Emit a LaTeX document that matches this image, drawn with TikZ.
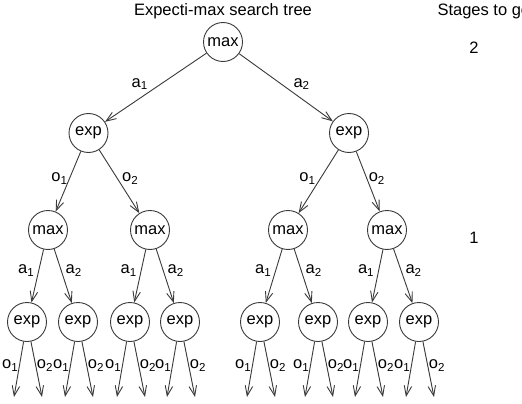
\documentclass[tikz,border=0pt]{standalone}
\usepackage{fontspec}
\setmainfont{Liberation Sans}
\usetikzlibrary{arrows.meta}
\definecolor{linegray}{HTML}{3A3A3A}
\begin{document}
\begin{tikzpicture}[x=1pt,y=-1pt,
  font=\fontsize{16.5}{19}\selectfont,
  state/.style={circle,draw=linegray,line width=0.9pt,minimum size=39pt,inner sep=0pt},
  branch/.style={draw=linegray,line width=0.9pt,-{Straight Barb[length=10pt,width=7.5pt]}},
  lab/.style={inner sep=1.5pt},
  leaflab/.style={inner sep=0.8pt}]
\path[use as bounding box, fill=white] (0,0) rectangle (522,404);

% headings
\node[anchor=base] (title) at (223,16) {Expecti-max search tree};
\node[anchor=base west] (stages) at (434,16) {Stages to go};
\node[anchor=base] (s2) at (474,54) {2};
\node[anchor=base] (s1) at (474,243) {1};

% tree nodes
\node[state] (r) at (223,42) {max};
\node[state] (e1) at (88.5,133) {exp};
\node[state] (e2) at (349,133) {exp};
\node[state] (m1) at (48,230) {max};
\node[state] (m2) at (150,230) {max};
\node[state] (m3) at (288,230) {max};
\node[state] (m4) at (387,230) {max};
\foreach \n/\x in {x1/27,x2/78,x3/130,x4/180,x5/260,x6/318,x7/368,x8/419}
  \node[state] (\n) at (\x,322) {exp};

% actions from the root
\draw[branch] (r) -- (e1) node[lab,pos=0.56,above left] {a\textsubscript{1}};
\draw[branch] (r) -- (e2) node[lab,pos=0.56,above right] {a\textsubscript{2}};

% outcomes of the first actions
\draw[branch] (e1) -- (m1) node[lab,pos=0.45,left] {o\textsubscript{1}};
\draw[branch] (e1) -- (m2) node[lab,pos=0.45,right=3pt] {o\textsubscript{2}};
\draw[branch] (e2) -- (m3) node[lab,pos=0.45,left=3pt] {o\textsubscript{1}};
\draw[branch] (e2) -- (m4) node[lab,pos=0.45,right] {o\textsubscript{2}};

% actions at stage 1
\foreach \m/\a/\b in {m1/x1/x2,m2/x3/x4,m3/x5/x6,m4/x7/x8}{
  \draw[branch] (\m) -- (\a) node[lab,pos=0.4,left=2.5pt] {a\textsubscript{1}};
  \draw[branch] (\m) -- (\b) node[lab,pos=0.4,right=2.5pt] {a\textsubscript{2}};
}

% outcomes leading out of the tree
\foreach \n/\x in {x1/27,x2/78,x3/130,x4/180,x5/260,x6/318,x7/368,x8/419}{
  \coordinate (\n l) at (\x-13,397);
  \coordinate (\n r) at (\x+15,397);
  \draw[branch] (\n) -- (\n l) node[leaflab,pos=0.43,left] {o\textsubscript{1}};
  \draw[branch] (\n) -- (\n r) node[leaflab,pos=0.43,right] {o\textsubscript{2}};
}
\end{tikzpicture}
\end{document}
